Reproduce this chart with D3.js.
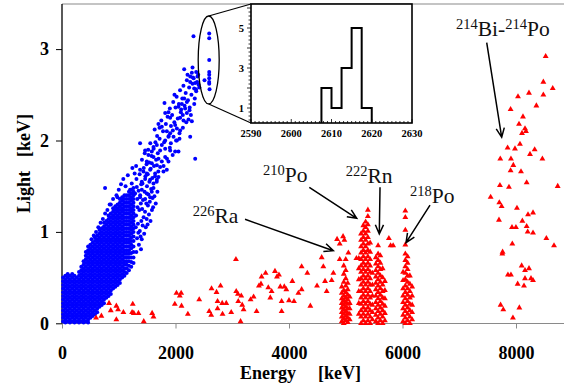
<!DOCTYPE html>
<html><head><meta charset="utf-8">
<script src="https://cdn.jsdelivr.net/npm/d3@7"></script>
<style>
body{margin:0;background:#fff}
svg{display:block}
</style>
</head><body>
<svg id="c" width="564" height="383"></svg>
<script>
// ---------- data ----------
const xTicks=[0,2000,4000,6000,8000];
const yTicks=[0,1,2,3];
const insetXTicks=[2590,2600,2610,2620,2630];
const insetYTicks=[1,3,5];
const histEdges=[2607.5,2610,2612.5,2615,2617.5,2620];
const histCounts=[2,1,3,5,1];

// dense part of the gamma/beta band: [energy, [light values]]
const blueCols=[
[20,[0.02,0.06,0.10,0.14,0.18,0.22,0.26,0.30,0.34,0.38,0.42,0.46,0.50]],
[60,[0.01,0.04,0.08,0.12,0.16,0.20,0.24,0.28,0.32,0.36,0.40,0.44,0.48,0.52]],
[100,[0.02,0.06,0.10,0.14,0.18,0.22,0.26,0.30,0.34,0.38,0.42,0.46,0.50,0.54]],
[140,[0.01,0.04,0.08,0.12,0.16,0.20,0.24,0.28,0.32,0.36,0.40,0.44,0.48,0.52]],
[180,[0.02,0.06,0.10,0.14,0.18,0.22,0.26,0.30,0.34,0.38,0.42,0.46,0.50,0.54]],
[220,[0.01,0.04,0.08,0.12,0.16,0.20,0.24,0.28,0.32,0.36,0.40,0.44,0.48,0.52]],
[260,[0.02,0.06,0.10,0.14,0.18,0.22,0.26,0.30,0.34,0.38,0.42,0.46,0.50]],
[300,[0.01,0.04,0.08,0.12,0.16,0.20,0.24,0.28,0.32,0.36,0.40,0.44,0.48,0.52,0.56]],
[340,[0.02,0.06,0.10,0.14,0.18,0.22,0.26,0.30,0.34,0.38,0.42,0.46,0.50,0.54,0.58,0.62]],
[380,[0.01,0.04,0.08,0.12,0.16,0.20,0.24,0.28,0.32,0.36,0.40,0.44,0.48,0.52,0.56,0.60,0.64,0.68]],
[420,[0.02,0.06,0.10,0.14,0.18,0.22,0.26,0.30,0.34,0.38,0.42,0.46,0.50,0.54,0.58,0.62,0.66,0.70,0.74,0.78]],
[460,[0.01,0.04,0.08,0.12,0.16,0.20,0.24,0.28,0.32,0.36,0.40,0.44,0.48,0.52,0.56,0.60,0.64,0.68,0.72,0.76,0.80,0.84]],
[500,[0.06,0.10,0.14,0.18,0.22,0.26,0.30,0.34,0.38,0.42,0.46,0.50,0.54,0.58,0.62,0.66,0.70,0.74,0.78,0.82,0.86]],
[540,[0.08,0.12,0.16,0.20,0.24,0.28,0.32,0.36,0.40,0.44,0.48,0.52,0.56,0.60,0.64,0.68,0.72,0.76,0.80,0.84,0.88]],
[580,[0.10,0.14,0.18,0.22,0.26,0.30,0.34,0.38,0.42,0.46,0.50,0.54,0.58,0.62,0.66,0.70,0.74,0.78,0.82,0.86,0.90,0.94]],
[620,[0.12,0.16,0.20,0.24,0.28,0.32,0.36,0.40,0.44,0.48,0.52,0.56,0.60,0.64,0.68,0.72,0.76,0.80,0.84,0.88,0.92,0.96]],
[660,[0.18,0.22,0.26,0.30,0.34,0.38,0.42,0.46,0.50,0.54,0.58,0.62,0.66,0.70,0.74,0.78,0.82,0.86,0.90,0.94,0.98,1.02]],
[700,[0.20,0.24,0.28,0.32,0.36,0.40,0.44,0.48,0.52,0.56,0.60,0.64,0.68,0.72,0.76,0.80,0.84,0.88,0.92,0.96,1.00,1.04]],
[740,[0.22,0.26,0.30,0.34,0.38,0.42,0.46,0.50,0.54,0.58,0.62,0.66,0.70,0.74,0.78,0.82,0.86,0.90,0.94,0.98,1.02,1.06,1.10]],
[780,[0.28,0.32,0.36,0.40,0.44,0.48,0.52,0.56,0.60,0.64,0.68,0.72,0.76,0.80,0.84,0.88,0.92,0.96,1.00,1.04,1.08,1.12]],
[820,[0.30,0.34,0.38,0.42,0.46,0.50,0.54,0.58,0.62,0.66,0.70,0.74,0.78,0.82,0.86,0.90,0.94,0.98,1.02,1.06,1.10,1.14,1.18]],
[860,[0.32,0.36,0.40,0.44,0.48,0.52,0.56,0.60,0.64,0.68,0.72,0.76,0.80,0.84,0.88,0.92,0.96,1.00,1.04,1.08,1.12,1.16,1.20]],
[900,[0.38,0.42,0.46,0.50,0.54,0.58,0.62,0.66,0.70,0.74,0.78,0.82,0.86,0.90,0.94,0.98,1.02,1.06,1.10,1.14,1.18,1.22,1.26]],
[940,[0.40,0.44,0.48,0.52,0.56,0.60,0.64,0.68,0.72,0.76,0.80,0.84,0.88,0.92,0.96,1.00,1.04,1.08,1.12,1.16,1.20,1.24,1.28]],
[980,[0.42,0.46,0.50,0.54,0.58,0.62,0.66,0.70,0.74,0.78,0.82,0.86,0.90,0.94,0.98,1.02,1.06,1.10,1.14,1.18,1.22,1.26,1.30]],
[1020,[0.44,0.48,0.52,0.56,0.60,0.64,0.68,0.72,0.76,0.80,0.84,0.88,0.92,0.96,1.00,1.04,1.08,1.12,1.16,1.20,1.24,1.28,1.32,1.36]],
[1060,[0.50,0.54,0.58,0.62,0.66,0.70,0.74,0.78,0.82,0.86,0.90,0.94,0.98,1.02,1.06,1.10,1.14,1.18,1.22,1.26,1.30,1.34,1.38]],
[1100,[0.52,0.56,0.60,0.64,0.68,0.72,0.76,0.80,0.84,0.88,0.92,0.96,1.00,1.04,1.08,1.12,1.16,1.20,1.24,1.28,1.32,1.36,1.40]],
[1140,[0.55,0.60,0.64,0.68,0.72,0.76,0.80,0.84,0.88,0.92,0.96,1.00,1.04,1.08,1.12,1.16,1.20,1.24,1.28,1.32,1.36,1.40]],
[1180,[0.58,0.63,0.68,0.72,0.76,0.80,0.84,0.88,0.92,0.96,1.00,1.04,1.08,1.12,1.16,1.20,1.24,1.28,1.32,1.36,1.40,1.44]],
[1220,[0.62,0.67,0.72,0.77,0.82,0.86,0.90,0.94,0.98,1.02,1.06,1.10,1.14,1.18,1.22,1.26,1.30,1.34,1.38,1.42,1.46]],
[1260,[0.66,0.72,0.78,0.84,0.90,0.95,1.00,1.04,1.08,1.12,1.16,1.20,1.24,1.28,1.32,1.36,1.40,1.44,1.48]]
];

// sparser gamma/beta events: [energy, light]
const blueSparse=[
[1310,0.78],[1355,0.86],[1392,0.81],[1322,0.93],[1371,1.01],[1338,1.09],[1398,1.12],[1305,1.18],[1362,1.24],[1389,1.31],[1326,1.36],[1349,1.45],
[1395,1.52],[1312,1.58],[1368,1.63],[1384,0.95],[1331,1.27],[1377,1.40],[1300,1.05],[1345,0.99],
[1405,0.92],[1448,0.98],[1421,1.07],[1476,1.05],[1438,1.16],[1492,1.14],[1412,1.25],[1463,1.22],[1486,1.31],[1427,1.35],[1455,1.44],[1497,1.50],
[1418,1.53],[1470,1.61],[1441,1.70],[1490,1.74],[1409,1.79],[1458,1.86],
[1508,1.08],[1560,1.12],[1532,1.19],[1585,1.24],[1514,1.29],[1547,1.33],[1596,1.37],[1523,1.41],[1571,1.47],[1540,1.55],[1592,1.59],[1511,1.63],
[1563,1.69],[1536,1.76],[1579,1.83],[1519,1.90],[1556,1.97],
[1605,1.27],[1652,1.31],[1628,1.39],[1681,1.44],[1612,1.48],[1669,1.55],[1640,1.61],[1697,1.66],[1621,1.72],[1658,1.79],[1688,1.86],[1615,1.91],
[1646,1.98],[1676,2.05],[1633,2.12],[1699,2.18],
[2317,3.14],[2594,3.17],[2594,3.12],[2594,2.88],[2594,2.75],[2594,2.72],[2594,2.68],[2594,2.64],[2594,2.62],[2600,2.56],[2511,2.66],
[2153,2.78],[2300,2.80],[2212,2.72],[2288,2.74],[2365,2.75],[2388,2.70],[2306,2.69],[2259,2.64],[2347,2.63],[2406,2.61],[2329,2.57],[2365,2.54],
[1982,2.50],[2153,2.46],[2200,2.42],[2112,2.40],[2053,2.37],[2170,2.35],[2247,2.33],[2094,2.31],[2200,2.30],[2129,2.28],[2271,2.28],[2229,2.23],[2141,2.22],[2288,2.21],[2082,2.25],
[1806,2.41],[1876,2.31],[1818,2.30],[1906,2.25],
[1759,2.15],[1718,2.14],[1994,2.17],[2024,2.13],[2082,2.11],[1953,2.11],[1847,2.10],[1906,2.08],
[2259,2.04],[1965,2.04],[2024,2.00],[1876,2.04],[1918,1.97],[1818,2.00],[2070,2.02],
[1671,1.95],[1759,1.95],[1818,1.91],[1729,1.89],[1906,1.89],[1994,1.88],[2053,1.88],[1612,1.93],[1582,1.88],
[2347,1.80],[1376,1.97],
[1465,1.89],[1523,1.84],[1612,1.82],[1700,1.80],[1759,1.77],[1818,1.82],[1876,1.77],[1494,1.77],[1582,1.75],[1671,1.73],[1729,1.71],
[1306,1.72],[1376,1.68],[1435,1.66],[1494,1.64],[1553,1.68],[1641,1.64],[1700,1.60],[1788,1.66],[1847,1.68],[1465,1.58],[1553,1.57],[1406,1.55],[1612,1.53],[1671,1.57],
[1229,1.53],[1318,1.49],[1406,1.46],[1494,1.42],[1582,1.44],[1200,1.46],[1288,1.42],[1376,1.38],[1465,1.36],[1553,1.38],
[1000,1.46],[1040,1.52],[1080,1.58],[1120,1.50],[1160,1.62],[1240,1.70],[1280,1.64],[960,1.40],[900,1.36],[860,1.30],
[840,1.30],[800,1.24],[760,1.20],[720,1.14],[680,1.10],[640,1.05],[600,1.00],[560,0.96],[520,0.92],
[759,1.48],[976,1.38],
[1720,2.02],[1750,2.22],[1780,2.10],[1800,1.98],[1830,2.18],[1860,2.26],[1880,2.05],[1900,2.35],[1920,2.16],[1940,2.28],[1960,2.42],[1980,2.20],
[2000,2.36],[2020,2.48],[2040,2.24],[2060,2.40],[2080,2.55],[2100,2.34],[2120,2.46],[2140,2.60],[2160,2.38],[2180,2.52],[2200,2.66],[2220,2.44],
[2240,2.58],[2260,2.70],[2280,2.50],[2300,2.62],[2320,2.68],[2340,2.46],[2360,2.56],[2380,2.64],[2400,2.72],[2420,2.58],
[1790,1.72],[1850,1.80],[1900,1.92],[1950,1.84],[2010,2.00],[2070,2.08],[2130,2.14],[2190,2.20],[2250,2.36],[2330,2.40]
];

// alpha peaks: [energy, [light values]]
const redCols=[
[4930,[0.02,0.07,0.12,0.17,0.22,0.27,0.33,0.40]],
[4965,[0.00,0.05,0.10,0.15,0.20,0.25,0.30,0.36,0.45,0.54,0.63]],
[5000,[0.03,0.08,0.13,0.18,0.23,0.28,0.34,0.41,0.49,0.58,0.70]],
[5035,[0.01,0.06,0.11,0.16,0.21,0.26,0.31,0.37,0.44]],
[5070,[0.04,0.10,0.16,0.22,0.29]],
[5230,[0.10,0.22,0.35,0.48,0.60,0.71]],
[5270,[0.00,0.07,0.14,0.21,0.28,0.35,0.42,0.49,0.56,0.63,0.70,0.77,0.84,0.91,0.98]],
[5310,[0.03,0.10,0.17,0.24,0.31,0.38,0.45,0.52,0.59,0.66,0.73,0.80,0.87,0.94,1.01,1.07]],
[5350,[0.00,0.07,0.14,0.21,0.28,0.35,0.42,0.49,0.56,0.63,0.70,0.77,0.84,0.91,0.98,1.05,1.11]],
[5390,[0.03,0.10,0.17,0.24,0.31,0.38,0.45,0.52,0.59,0.66,0.73,0.80,0.87,0.94,1.01,1.08,1.17,1.24]],
[5430,[0.00,0.07,0.14,0.21,0.28,0.35,0.42,0.49,0.56,0.63,0.70,0.78,0.88]],
[5470,[0.04,0.12,0.20,0.30,0.42,0.55]],
[5530,[0.02,0.09,0.16,0.23,0.30,0.37,0.44,0.51,0.58,0.65,0.72]],
[5570,[0.00,0.06,0.13,0.20,0.27,0.34,0.41,0.48,0.55,0.62,0.69,0.76,0.85]],
[5610,[0.03,0.10,0.17,0.24,0.31,0.38,0.45,0.52,0.59,0.66,0.74]],
[5650,[0.00,0.07,0.14,0.21,0.28,0.35,0.42,0.50,0.60]],
[5690,[0.03,0.11,0.19,0.27,0.36,0.46]],
[6010,[0.02,0.09,0.16,0.23,0.30,0.38,0.47,0.56]],
[6050,[0.00,0.06,0.13,0.20,0.27,0.34,0.41,0.48,0.55,0.62,0.69,0.76,0.86,1.02,1.16,1.23]],
[6090,[0.03,0.10,0.17,0.24,0.31,0.38,0.45,0.52,0.59,0.66,0.73]],
[6130,[0.00,0.07,0.14,0.21,0.28,0.35,0.43,0.52]],
[6170,[0.04,0.12,0.20,0.30,0.40]]
];

// scattered alpha events: [energy, light]
const redSparse=[
[600,0.06],[694,0.08],[829,0.22],[859,0.14],[958,0.19],[988,0.15],[958,0.04],[1082,0.12],[1247,0.21],[1235,0.12],[1265,0.11],[1347,0.11],
[1441,0.02],[1588,0.11],[1612,0.07],[1988,0.21],[2017,0.33],[2100,0.33],[2076,0.30],[2106,0.19],[2218,0.10],[2418,0.26],[2635,0.38],
[2723,0.34],[2794,0.41],[3065,0.70],[2741,0.24],[2594,0.13],[2629,0.09],[2741,0.16],[2823,0.22],[2894,0.22],[2829,0.10],[2982,0.12],
[3070,0.35],[3100,0.32],[3159,0.30],[3106,0.24],[3176,0.20],[3200,0.15],[3147,0.02],[3323,0.26],[3376,0.29],[3429,0.13],[3470,0.41],
[3506,0.43],[3517,0.51],[3588,0.55],[3635,0.39],[3670,0.28],[3694,0.35],[3753,0.57],[3788,0.51],[3823,0.53],[3847,0.40],[3870,0.24],
[3917,0.40],[3953,0.37],[3870,0.13],[4000,0.25],[4059,0.46],[4088,0.24],[4165,0.33],[4223,0.62],[4223,0.37],[4323,0.55],[4376,0.19],
[4494,0.41],[4576,0.72],[4605,0.62],[4635,0.46],[4664,0.35],[4782,0.55],[4752,0.47],[4847,0.92],[4953,0.95],[4976,0.91],[4894,0.87],
[4894,0.70],[5046,0.77],[5188,0.71],[5760,0.93],[5790,0.85],[5835,0.85],
[8523,2.92],[8482,2.64],[8647,2.57],[8482,2.50],[8229,2.52],[8035,2.48],[8359,2.38],[7905,2.34],[8123,2.26],[8053,2.18],[8159,2.13],
[8176,2.10],[8106,2.08],[8070,1.96],[7852,1.92],[7982,1.91],[8329,1.90],[8247,1.85],[7723,1.80],[7911,1.80],[8465,1.80],[7953,1.73],
[7905,1.67],[8088,1.66],[8188,1.54],[7717,1.51],[7876,1.49],[8735,1.50],[7553,1.38],[7706,1.32],[7747,1.28],[8017,1.26],[8212,1.19],
[8300,1.21],[7700,1.13],[8112,1.12],[7929,1.05],[7999,1.05],[8188,1.06],[8206,1.00],[8300,0.99],[8535,0.93],[8670,0.85],[7935,0.87],
[7764,0.78],[7759,0.76],[8100,0.63],[8229,0.60],[8159,0.58],[7858,0.53],[7911,0.53],[8159,0.49],[8264,0.49],[8300,0.47],[8029,0.43],
[8141,0.41],[7729,0.20],[7776,0.15],[8059,0.17],[7946,0.06]
];

// annotations (data coordinates)
const notes=[
 {sup:"226",el:"Ra",E:2303,L:1.097},
 {sup:"210",el:"Po",E:3542,L:1.549},
 {sup:"222",el:"Rn",E:4999,L:1.532},
 {sup:"218",el:"Po",E:6132,L:1.313}
];
const arrows=[
 [3225,1.138,4781,0.794],
 [4358,1.488,5193,1.149],
 [5604,1.488,5591,0.977],
 [6485,1.294,6062,0.882],
 [7484,3.07,7748,2.035]
];
const zoomEllipse={E:2585,L:2.881,dE:185,dL:0.481};

// ---------- drawing ----------
const FONT='"Liberation Serif"';
const svg=d3.select("#c");
const x=d3.scaleLinear().domain([0,8000]).range([62,516]);
const y=d3.scaleLinear().domain([0,3]).range([323.3,49.1]);
function txt(sel){return sel.style("font-family",FONT);}

// frame
svg.append("line").attr("x1",62).attr("x2",564).attr("y1",4).attr("y2",4).attr("stroke","#8a8a8a").attr("stroke-width",1.2);
svg.append("line").attr("x1",62).attr("x2",564).attr("y1",323.5).attr("y2",323.5).attr("stroke","#8a8a8a").attr("stroke-width",1.2);

// x axis
const gx=svg.append("g").attr("transform","translate(0,323.5)")
  .call(d3.axisBottom(x).tickValues(xTicks).tickFormat(d3.format("d")).tickSize(5).tickPadding(18));
gx.select(".domain").remove();
gx.selectAll("line").attr("stroke","#8a8a8a");
txt(gx.selectAll("text")).style("font-size","18px").style("font-weight","bold").attr("fill","#000");

// y axis
const gy=svg.append("g").attr("transform","translate(62,0)")
  .call(d3.axisLeft(y).tickValues(yTicks).tickFormat(d3.format("d")).tickSize(6).tickPadding(7));
gy.select(".domain").remove();
gy.selectAll("line").attr("stroke","#000");
txt(gy.selectAll("text")).style("font-size","18px").style("font-weight","bold").attr("fill","#000");
svg.append("line").attr("x1",62).attr("x2",62).attr("y1",4).attr("y2",323.5).attr("stroke","#000").attr("stroke-width",1.3);

// axis titles
txt(svg.append("text")).attr("x",240).attr("y",379).style("font-size","18px").style("font-weight","bold").text("Energy");
txt(svg.append("text")).attr("x",318).attr("y",379).style("font-size","18px").style("font-weight","bold").text("[keV]");
txt(svg.append("text")).attr("transform","translate(30,213) rotate(-90)").style("font-size","18px").style("font-weight","bold").text("Light");
txt(svg.append("text")).attr("transform","translate(30,157) rotate(-90)").style("font-size","18px").style("font-weight","bold").text("[keV]");

// blue points
const bluePts=[];
blueCols.forEach(([e,ls])=>ls.forEach(l=>bluePts.push([e,l])));
blueSparse.forEach(p=>bluePts.push(p));
svg.append("g").selectAll("circle").data(bluePts).join("circle")
  .attr("cx",d=>x(d[0])).attr("cy",d=>y(d[1])).attr("r",2.0).attr("fill","#0000ff");

// red triangles
const redPts=[];
redCols.forEach(([e,ls])=>ls.forEach(l=>redPts.push([e,l])));
redSparse.forEach(p=>redPts.push(p));
const tri=d3.symbol().type(d3.symbolTriangle).size(15);
svg.append("g").selectAll("path").data(redPts).join("path")
  .attr("d",tri).attr("transform",d=>`translate(${x(d[0])},${y(d[1])})`).attr("fill","#ff0000");

// ellipse + connectors
const ecx=x(zoomEllipse.E), ecy=y(zoomEllipse.L);
const erx=x(zoomEllipse.E+zoomEllipse.dE)-ecx, ery=y(zoomEllipse.L-zoomEllipse.dL)-ecy;
svg.append("ellipse").attr("cx",ecx).attr("cy",ecy).attr("rx",erx).attr("ry",ery)
  .attr("fill","none").attr("stroke","#000").attr("stroke-width",1.3);

// inset
const ix=d3.scaleLinear().domain([2590,2630]).range([251,412]);
const iy=d3.scaleLinear().domain([0.25,6.2]).range([123,4]);
svg.append("line").attr("x1",ecx).attr("y1",ecy-ery).attr("x2",ix.range()[0]).attr("y2",iy.range()[1]).attr("stroke","#000").attr("stroke-width",1.2);
svg.append("line").attr("x1",ecx).attr("y1",ecy+ery).attr("x2",ix.range()[0]).attr("y2",iy.range()[0]).attr("stroke","#000").attr("stroke-width",1.2);
const gi=svg.append("g");
gi.append("rect").attr("x",251).attr("y",4).attr("width",161).attr("height",119).attr("fill","#fff");
const xMinor=d3.range(2590,2631,1);
gi.selectAll(".xm").data(xMinor).join("line").attr("class","xm")
  .attr("x1",d=>ix(d)).attr("x2",d=>ix(d)).attr("y1",123).attr("y2",d=>d%10===0?119:121)
  .attr("stroke","#000").attr("stroke-width",0.8);
const yMinor=d3.range(0.4,6.2,0.2);
gi.selectAll(".ym").data(yMinor).join("line").attr("class","ym")
  .attr("x1",251).attr("x2",d=>Math.abs(d-Math.round(d))<0.01?247:248.5).attr("y1",d=>iy(d)).attr("y2",d=>iy(d))
  .attr("stroke","#000").attr("stroke-width",0.8);
const hp=[[histEdges[0],iy.domain()[0]]];
histCounts.forEach((c,i)=>{hp.push([histEdges[i],c]);hp.push([histEdges[i+1],c]);});
hp.push([histEdges[histEdges.length-1],iy.domain()[0]]);
gi.append("path").attr("d",d3.line().x(d=>ix(d[0])).y(d=>iy(d[1]))(hp))
  .attr("fill","none").attr("stroke","#000").attr("stroke-width",2);
gi.append("rect").attr("x",251).attr("y",4).attr("width",161).attr("height",119).attr("fill","none")
  .attr("stroke","#000").attr("stroke-width",1.6);
txt(gi.selectAll(".xl").data(insetXTicks).join("text").attr("class","xl"))
  .attr("x",d=>ix(d)).attr("y",136.5).attr("text-anchor","middle").style("font-size","10.5px").style("font-weight","bold").text(d=>d);
txt(gi.selectAll(".yl").data(insetYTicks).join("text").attr("class","yl"))
  .attr("x",244).attr("y",d=>iy(d)+3.5).attr("text-anchor","end").style("font-size","10.5px").style("font-weight","bold").text(d=>d);

// annotations
notes.forEach(n=>{
  const t=txt(svg.append("text")).attr("x",x(n.E)).attr("y",y(n.L)).attr("fill","#111");
  t.append("tspan").style("font-size","14.5px").attr("dy",-7).text(n.sup);
  t.append("tspan").style("font-size","21.5px").attr("dy",7).text(n.el);
});
{
  const t=txt(svg.append("text")).attr("x",x(6943)).attr("y",y(3.143)).attr("fill","#111");
  t.append("tspan").style("font-size","14.5px").attr("dy",-7).text("214");
  t.append("tspan").style("font-size","21.5px").attr("dy",7).text("Bi-");
  t.append("tspan").style("font-size","14.5px").attr("dy",-7).text("214");
  t.append("tspan").style("font-size","21.5px").attr("dy",7).text("Po");
}
arrows.forEach(([e1,l1,e2,l2])=>{
  const x1=x(e1),y1=y(l1),x2=x(e2),y2=y(l2);
  const a=Math.atan2(y2-y1,x2-x1),h=10,w=0.42;
  const p=`M${x1},${y1}L${x2},${y2}M${x2-h*Math.cos(a-w)},${y2-h*Math.sin(a-w)}L${x2},${y2}L${x2-h*Math.cos(a+w)},${y2-h*Math.sin(a+w)}`;
  svg.append("path").attr("d",p).attr("fill","none").attr("stroke","#000").attr("stroke-width",1.5);
});
</script>
</body></html>
